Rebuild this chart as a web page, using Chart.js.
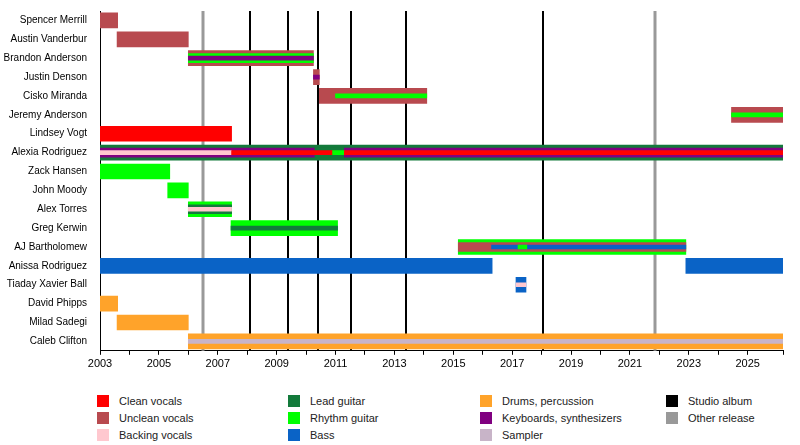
<!DOCTYPE html>
<html lang="en">
<head>
<meta charset="UTF-8">
<title>Band timeline</title>
<script src="https://cdn.jsdelivr.net/npm/chart.js"></script>
<style>
body{margin:0;background:#fff;font-family:"Liberation Sans",Arial,sans-serif;}
#wrap{position:relative;width:800px;height:445px;}
#chartBox{position:absolute;left:0;top:0;width:800px;height:374px;}
.leg{position:absolute;font-size:11px;color:#222;line-height:12px;}
.leg i{display:inline-block;width:12px;height:12px;vertical-align:top;margin-right:10px;}
</style>
</head>
<body>
<div id="wrap">
<div id="chartBox"><canvas id="c"></canvas></div>
<div id="legend"></div>
</div>
<script>
const members=['Spencer Merrill','Austin Vanderbur','Brandon Anderson','Justin Denson','Cisko Miranda','Jeremy Anderson','Lindsey Vogt','Alexia Rodriguez','Zack Hansen','John Moody','Alex Torres','Greg Kerwin','AJ Bartholomew','Anissa Rodriguez','Tiaday Xavier Ball','David Phipps','Milad Sadegi','Caleb Clifton'];
const roleColors={clean:'#ff0000',unclean:'#b84a4f',backing:'#ffc8cf',lead:'#137a3b',rhythm:'#00ff00',bass:'#0a63c6',drums:'#ffa32a',keys:'#800080',sampler:'#c8b4c8'};
// [member, start, end, role]
const outerBars=[
  ['Spencer Merrill',2003,2003.6,'unclean'],
  ['Austin Vanderbur',2003.58,2006,'unclean'],
  ['Brandon Anderson',2006,2010.25,'unclean'],
  ['Justin Denson',2010.25,2010.45,'unclean'],
  ['Cisko Miranda',2010.45,2014.1,'unclean'],
  ['Jeremy Anderson',2024.45,2026.2,'unclean'],
  ['Lindsey Vogt',2003,2007.47,'clean'],
  ['Alexia Rodriguez',2003,2026.2,'lead'],
  ['Zack Hansen',2003,2005.37,'rhythm'],
  ['John Moody',2005.3,2006,'rhythm'],
  ['Alex Torres',2006,2007.47,'rhythm'],
  ['Greg Kerwin',2007.45,2011.07,'rhythm'],
  ['AJ Bartholomew',2015.17,2022.9,'rhythm'],
  ['Anissa Rodriguez',2003,2016.32,'bass'],
  ['Anissa Rodriguez',2022.9,2026.2,'bass'],
  ['Tiaday Xavier Ball',2017.13,2017.47,'bass'],
  ['David Phipps',2003,2003.6,'drums'],
  ['Milad Sadegi',2003.58,2006,'drums'],
  ['Caleb Clifton',2006,2026.2,'drums']
];
const middleBars=[
  ['Brandon Anderson',2006,2010.25,'rhythm'],
  ['Alexia Rodriguez',2003,2010.3,'keys'],
  ['Alexia Rodriguez',2010.3,2011.3,'lead'],
  ['Alexia Rodriguez',2011.3,2026.2,'keys'],
  ['Alex Torres',2006,2007.47,'lead'],
  ['AJ Bartholomew',2015.17,2022.9,'unclean']
];
const innerBars=[
  ['Brandon Anderson',2006,2010.25,'keys'],
  ['Justin Denson',2010.25,2010.45,'keys'],
  ['Cisko Miranda',2011,2014.1,'rhythm'],
  ['Jeremy Anderson',2024.45,2026.2,'rhythm'],
  ['Alexia Rodriguez',2003,2007.47,'backing'],
  ['Alexia Rodriguez',2007.47,2010.9,'clean'],
  ['Alexia Rodriguez',2010.9,2011.3,'rhythm'],
  ['Alexia Rodriguez',2011.3,2026.2,'clean'],
  ['Alex Torres',2006,2007.47,'backing'],
  ['Greg Kerwin',2007.45,2011.07,'lead'],
  ['AJ Bartholomew',2016.3,2022.9,'bass'],
  ['AJ Bartholomew',2017.2,2017.5,'rhythm'],
  ['Tiaday Xavier Ball',2017.13,2017.47,'backing'],
  ['Caleb Clifton',2006,2026.2,'sampler']
];
const studioAlbums=[2008.08,2009.37,2010.39,2011.54,2013.4,2018.05];
const otherReleases=[2006.49,2021.85];
const legendItems=[
  ['Clean vocals','#ff0000'],['Unclean vocals','#b84a4f'],['Backing vocals','#ffc8cf'],
  ['Lead guitar','#137a3b'],['Rhythm guitar','#00ff00'],['Bass','#0a63c6'],
  ['Drums, percussion','#ffa32a'],['Keyboards, synthesizers','#800080'],['Sampler','#c8b4c8'],
  ['Studio album','#000000'],['Other release','#999999']
];

function layer(bars,thick,order){
  return {data:bars.map(b=>({x:[b[1],b[2]],y:b[0]})),
    backgroundColor:bars.map(b=>roleColors[b[3]]),
    barThickness:thick,grouped:false,order:order,borderWidth:0};
}
const releaseLines={id:'releaseLines',beforeDatasetsDraw(chart){
  const {ctx,chartArea:a,scales:{x}}=chart;
  ctx.save();
  const draw=(v,col,w)=>{const px=Math.round(x.getPixelForValue(v));ctx.strokeStyle=col;ctx.lineWidth=w;ctx.beginPath();ctx.moveTo(px,a.top);ctx.lineTo(px,a.bottom);ctx.stroke();};
  otherReleases.forEach(v=>draw(v,'#999999',3));
  studioAlbums.forEach(v=>draw(v,'#000000',2));
  ctx.restore();
}};
new Chart(document.getElementById('c'),{
  type:'bar',
  data:{labels:members,datasets:[layer(outerBars,15,3),layer(middleBars,9,2),layer(innerBars,4,1)]},
  options:{indexAxis:'y',responsive:true,maintainAspectRatio:false,animation:false,
    layout:{padding:{top:7,right:17,left:0,bottom:0}},
    plugins:{legend:{display:false},tooltip:{enabled:false}},
    scales:{
      x:{type:'linear',min:2003,max:2026.2,
        border:{color:'#000',width:1},
        grid:{drawOnChartArea:false,drawTicks:true,tickLength:4,color:'#000'},
        ticks:{stepSize:1,autoSkip:false,maxRotation:0,color:'#000',font:{size:11,family:'Liberation Sans'},
          callback:v=>(v%2===1?String(v):'')}},
      y:{border:{color:'#000',width:1},grid:{display:false},
        afterFit:s=>{s.width=100;},
        ticks:{color:'#000',font:{size:10,family:'Liberation Sans'},padding:5}}
    }},
  plugins:[releaseLines]
});
const cols=[97,288,480,666];
document.getElementById('legend').innerHTML=legendItems.map((it,i)=>{
  const c=Math.floor(i/3),r=i%3;
  return `<div class="leg" style="left:${cols[c]}px;top:${395+r*17}px"><i style="background:${it[1]}"></i>${it[0]}</div>`;
}).join('');
</script>
</body>
</html>
